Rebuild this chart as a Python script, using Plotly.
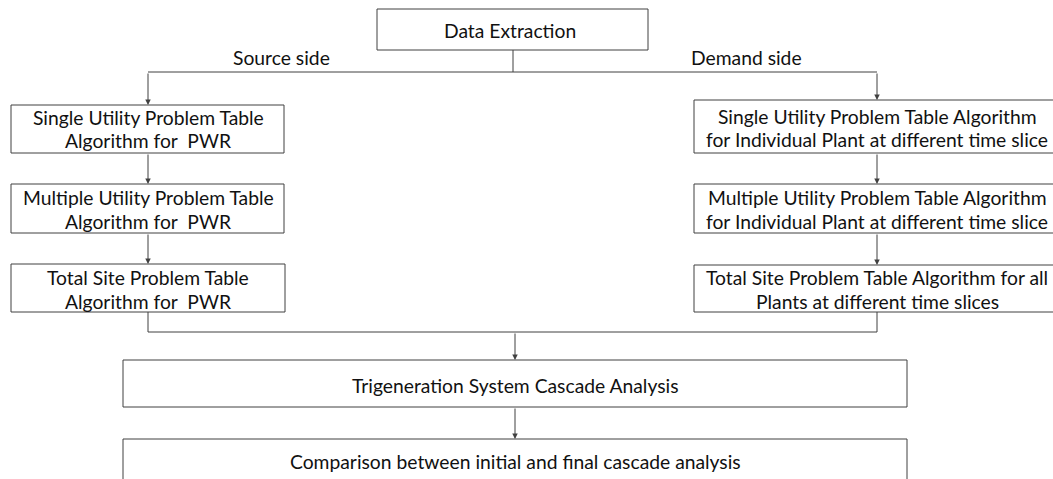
import plotly.graph_objects as go

# ---- content ----
top_label = "Data Extraction"
branch_labels = ["Source side", "Demand side"]
source_steps = [
    ["Single Utility Problem Table", "Algorithm for  PWR"],
    ["Multiple Utility Problem Table", "Algorithm for  PWR"],
    ["Total Site Problem Table", "Algorithm for  PWR"],
]
demand_steps = [
    ["Single Utility Problem Table Algorithm", "for Individual Plant at different time slice"],
    ["Multiple Utility Problem Table Algorithm", "for Individual Plant at different time slice"],
    ["Total Site Problem Table Algorithm for all", "Plants at different time slices"],
]
bottom_steps = [
    "Trigeneration System Cascade Analysis",
    "Comparison between initial and final cascade analysis",
]

# ---- layout geometry (page pixels) ----
W, H = 1053, 479
FONT = "Lato"
FS = 19.3
LINE = "#404040"
TXT = "#111111"

top_box = (377, 9, 648, 50)
left_boxes = [(11, 105, 284, 153), (11, 184, 284, 233), (11, 264, 285, 312)]
right_boxes = [(694, 100, 1060, 153), (694, 184, 1060, 233), (694, 265, 1060, 312)]
left_cx, right_cx = 148, 877
bot_boxes = [(123, 360, 907, 407), (123, 439, 907, 500)]
split_y, merge_y = 72, 332
mid_x = 513
merge_x = 515

fig = go.Figure()
shapes = []
annotations = []

def rect(b):
    shapes.append(dict(type="rect", xref="x", yref="y", x0=b[0], y0=b[1], x1=b[2], y1=b[3],
                       line=dict(color=LINE, width=1), fillcolor="white", layer="above"))

def seg(x0, y0, x1, y1):
    shapes.append(dict(type="line", xref="x", yref="y", x0=x0, y0=y0, x1=x1, y1=y1,
                       line=dict(color=LINE, width=1), layer="below"))

def arrow(x0, y0, x1, y1):
    annotations.append(dict(x=x1, y=y1, ax=x0, ay=y0, xref="x", yref="y", axref="x", ayref="y",
                            text="", showarrow=True, arrowhead=2, arrowsize=1.1, arrowwidth=1,
                            arrowcolor=LINE, standoff=0))

def text(x, y, s):
    annotations.append(dict(x=x, y=y, xref="x", yref="y", text=s, showarrow=False,
                            font=dict(family=FONT, size=FS, color=TXT), xanchor="center", yanchor="middle"))

# boxes
rect(top_box)
for b in left_boxes + right_boxes + bot_boxes:
    rect(b)

# connectors
seg(mid_x, top_box[3], mid_x, split_y)
seg(left_cx, split_y, right_cx, split_y)
arrow(left_cx, split_y, left_cx, left_boxes[0][1])
arrow(right_cx, split_y, right_cx, right_boxes[0][1])
for i in range(2):
    arrow(left_cx, left_boxes[i][3], left_cx, left_boxes[i + 1][1])
    arrow(right_cx, right_boxes[i][3], right_cx, right_boxes[i + 1][1])
seg(left_cx, left_boxes[2][3], left_cx, merge_y)
seg(right_cx, right_boxes[2][3], right_cx, merge_y)
seg(left_cx, merge_y, right_cx, merge_y)
arrow(merge_x, merge_y, merge_x, bot_boxes[0][1])
arrow(merge_x, bot_boxes[0][3], merge_x, bot_boxes[1][1])

# texts
text(510, 30, top_label)
text(281, 57, branch_labels[0])
text(746, 57, branch_labels[1])
left_text_y = [(117, 140), (197, 221), (277, 301)]
right_text_y = [(116, 139), (197, 221), (277, 301)]
for lines, ys in zip(source_steps, left_text_y):
    for s, y in zip(lines, ys):
        text(148, y, s)
for lines, ys in zip(demand_steps, right_text_y):
    for s, y in zip(lines, ys):
        text(877, y, s)
text(515, 385, bottom_steps[0])
text(515, 461, bottom_steps[1])

fig.update_layout(
    width=W, height=H, margin=dict(l=0, r=0, t=0, b=0),
    plot_bgcolor="white", paper_bgcolor="white",
    xaxis=dict(range=[0, W], visible=False, fixedrange=True),
    yaxis=dict(range=[H, 0], visible=False, fixedrange=True),
    shapes=shapes, annotations=annotations, showlegend=False,
)
fig.write_html(
    "out.html",
    config={"displayModeBar": False},
    post_script="document.body.style.margin='0';document.body.style.overflow='hidden';",
)
